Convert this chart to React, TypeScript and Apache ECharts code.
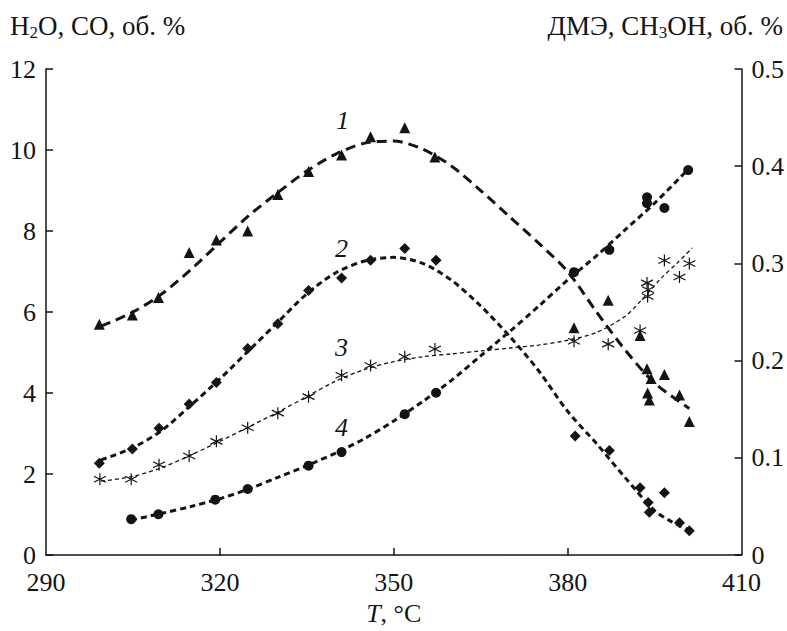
import React, { useEffect, useRef } from "react";
import * as echarts from "echarts";

// Measured points (T, value)
const triangles1: number[][] = [[299.2,5.7],[304.9,5.93],[309.4,6.36],[314.7,7.47],[319.4,7.78],[324.8,8.0],[330,8.9],[335.3,9.47],[341,9.88],[346,10.33],[351.9,10.55],[357.1,9.83],[381.1,5.61],[387,6.29],[392.5,5.42],[393.7,4.6],[394.4,4.36],[396.7,4.46],[393.8,4.0],[394.1,3.83],[399.3,3.95],[401,3.3]];
const diamonds2: number[][] = [[299.2,2.27],[304.9,2.62],[309.5,3.13],[314.7,3.73],[319.4,4.26],[324.8,5.1],[330,5.71],[335.3,6.53],[341,6.84],[346,7.28],[351.9,7.57],[357.3,7.28],[381.3,2.94],[387.2,2.58],[392.5,1.66],[396.7,1.54],[393.9,1.3],[394.1,1.06],[399.3,0.8],[401,0.6]];
const stars3: number[][] = [[299.3,0.078],[304.7,0.078],[309.5,0.093],[314.7,0.102],[319.4,0.117],[324.8,0.131],[330,0.146],[335.3,0.163],[341,0.185],[346,0.195],[351.9,0.204],[357.1,0.212],[381.1,0.22],[387,0.217],[392.5,0.231],[393.7,0.28],[393.9,0.273],[393.8,0.266],[396.7,0.303],[399.3,0.286],[401,0.3]];
const circles4: number[][] = [[304.7,0.037],[309.4,0.042],[319.2,0.057],[324.8,0.068],[335.3,0.092],[341,0.106],[351.9,0.145],[357.3,0.167],[381.1,0.291],[387.2,0.314],[393.7,0.368],[393.7,0.362],[396.7,0.357],[400.8,0.396]];

// Fitted curves
const fit1: number[][] = [[299.5,5.65],[305,6.0],[310,6.45],[315,7.05],[320,7.72],[325,8.38],[330,8.95],[335,9.48],[340,9.9],[345,10.17],[350,10.22],[355,10.02],[360,9.6],[365,9.0],[370,8.35],[375,7.7],[380,7.0],[385,6.0],[390,5.05],[395,4.25],[401,3.62]];
const fit2: number[][] = [[299.5,2.35],[305,2.65],[310,3.08],[315,3.7],[320,4.35],[325,5.05],[330,5.75],[335,6.45],[340,6.97],[345,7.26],[350,7.35],[355,7.2],[360,6.78],[365,6.15],[370,5.4],[375,4.55],[380,3.55],[385,2.75],[390,1.9],[395,1.1],[398,0.82],[401,0.62]];
const fit3: number[][] = [[299.5,0.076],[305,0.081],[310,0.09],[315,0.103],[320,0.117],[325,0.132],[330,0.147],[335,0.163],[340,0.179],[345,0.191],[350,0.199],[355,0.204],[360,0.207],[365,0.21],[370,0.213],[375,0.216],[380,0.221],[385,0.229],[390,0.246],[393,0.264],[396,0.284],[399,0.301],[401.5,0.316]];
const fit4: number[][] = [[304.7,0.036],[310,0.043],[315,0.05],[320,0.058],[325,0.068],[330,0.08],[335,0.092],[340,0.105],[345,0.12],[350,0.138],[355,0.158],[360,0.18],[365,0.205],[370,0.23],[375,0.256],[380,0.283],[385,0.308],[390,0.335],[395,0.362],[401,0.398]];

// Curve number labels (T, left-axis value, text)
const curveLabels: (number | string)[][] = [[341.2,10.72,"1"],[341,7.58,"2"],[341,5.12,"3"],[341,3.16,"4"]];

const xTicks = [290, 320, 350, 380, 410];

const FONT = "Liberation Serif";
const INK = "#141414";

export default function App() {
  const ref = useRef<HTMLDivElement>(null);
  useEffect(() => {
    if (!ref.current) return;
    const chart = echarts.init(ref.current, null, { renderer: "svg" });
    const axisLabel = { color: INK, fontFamily: FONT, fontSize: 26 };
    const lineBase = (data: number[][], yIdx: number, width: number, dash: number[]) => ({
      type: "line",
      yAxisIndex: yIdx,
      data,
      smooth: 0.3,
      showSymbol: false,
      symbol: "none",
      silent: true,
      lineStyle: { color: INK, width, type: dash, opacity: 1 },
      z: 2,
    });
    const scatter = (data: number[][], yIdx: number, symbol: string, size: number, extra: any = {}) => ({
      type: "scatter",
      yAxisIndex: yIdx,
      data,
      symbol,
      symbolSize: size,
      itemStyle: { color: INK, opacity: 1, ...extra },
      z: 3,
    });
    const titleRich = {
      n: { fontSize: 27, fontFamily: FONT, fill: INK },
      s: { fontSize: 17, fontFamily: FONT, fill: INK, padding: [13, 0, 0, 0] },
    };
    chart.setOption({
      animation: false,
      textStyle: { fontFamily: FONT },
      grid: { left: 46, right: 45, top: 69, bottom: 65, containLabel: false },
      xAxis: {
        type: "value",
        min: 290,
        max: 410,
        axisLine: { show: true, lineStyle: { color: INK, width: 1.5 } },
        axisTick: { show: true, inside: true, length: 7, customValues: [320, 350, 380], lineStyle: { color: INK, width: 1.5 } },
        axisLabel: { ...axisLabel, margin: 14, customValues: xTicks },
        splitLine: { show: false },
        name: "{i|T}, °C",
        nameLocation: "middle",
        nameGap: 44,
        nameTextStyle: { color: INK, fontFamily: FONT, fontSize: 26, rich: { i: { fontStyle: "italic", fontFamily: FONT, fontSize: 26, color: INK } } },
      },
      yAxis: [
        {
          type: "value",
          min: 0,
          max: 12,
          interval: 2,
          axisLine: { show: true, lineStyle: { color: INK, width: 1.5 } },
          axisTick: { show: true, inside: true, length: 7, lineStyle: { color: INK, width: 1.5 } },
          axisLabel: { ...axisLabel, margin: 10 },
          splitLine: { show: false },
        },
        {
          type: "value",
          min: 0,
          max: 0.5,
          interval: 0.1,
          position: "right",
          axisLine: { show: true, lineStyle: { color: INK, width: 1.5 } },
          axisTick: { show: true, inside: true, length: 7, lineStyle: { color: INK, width: 1.5 } },
          axisLabel: { ...axisLabel, margin: 10 },
          splitLine: { show: false },
        },
      ],
      graphic: [
        {
          type: "text",
          left: 10,
          top: 12,
          style: {
            text: "{n|H}{s|2}{n|O, CO, об. %}",
            fill: INK,
            fontFamily: FONT,
            fontSize: 27,
            rich: titleRich,
          },
        },
        {
          type: "text",
          right: 4,
          top: 12,
          style: {
            text: "{n|ДМЭ, CH}{s|3}{n|OH, об. %}",
            fill: INK,
            fontFamily: FONT,
            fontSize: 27,
            rich: titleRich,
          },
        },
      ],
      series: [
        lineBase(fit1, 0, 3, [10, 6]),
        lineBase(fit2, 0, 3, [6, 4]),
        lineBase(fit3, 1, 1.3, [4, 3]),
        lineBase(fit4, 1, 3, [6, 4]),
        scatter(triangles1, 0, "triangle", 11),
        scatter(diamonds2, 0, "diamond", 11),
        scatter(stars3, 1, "path://M0,-10L0,10M-8.66,-5L8.66,5M-8.66,5L8.66,-5", 12, { color: "none", borderColor: INK, borderWidth: 1.2 }),
        scatter(circles4, 1, "circle", 10),
        {
          type: "scatter",
          yAxisIndex: 0,
          data: curveLabels.map((d) => [d[0], d[1], d[2]]),
          symbolSize: 0,
          silent: true,
          itemStyle: { opacity: 1, color: INK },
          label: {
            show: true,
            position: "inside",
            formatter: (p: any) => p.value[2],
            fontFamily: FONT,
            fontStyle: "italic",
            fontSize: 26,
            color: INK,
            opacity: 1,
          },
          z: 4,
        },
      ],
    });
    return () => chart.dispose();
  }, []);
  return <div ref={ref} style={{ width: 787, height: 631, position: "absolute", left: 0, top: 0 }} />;
}
